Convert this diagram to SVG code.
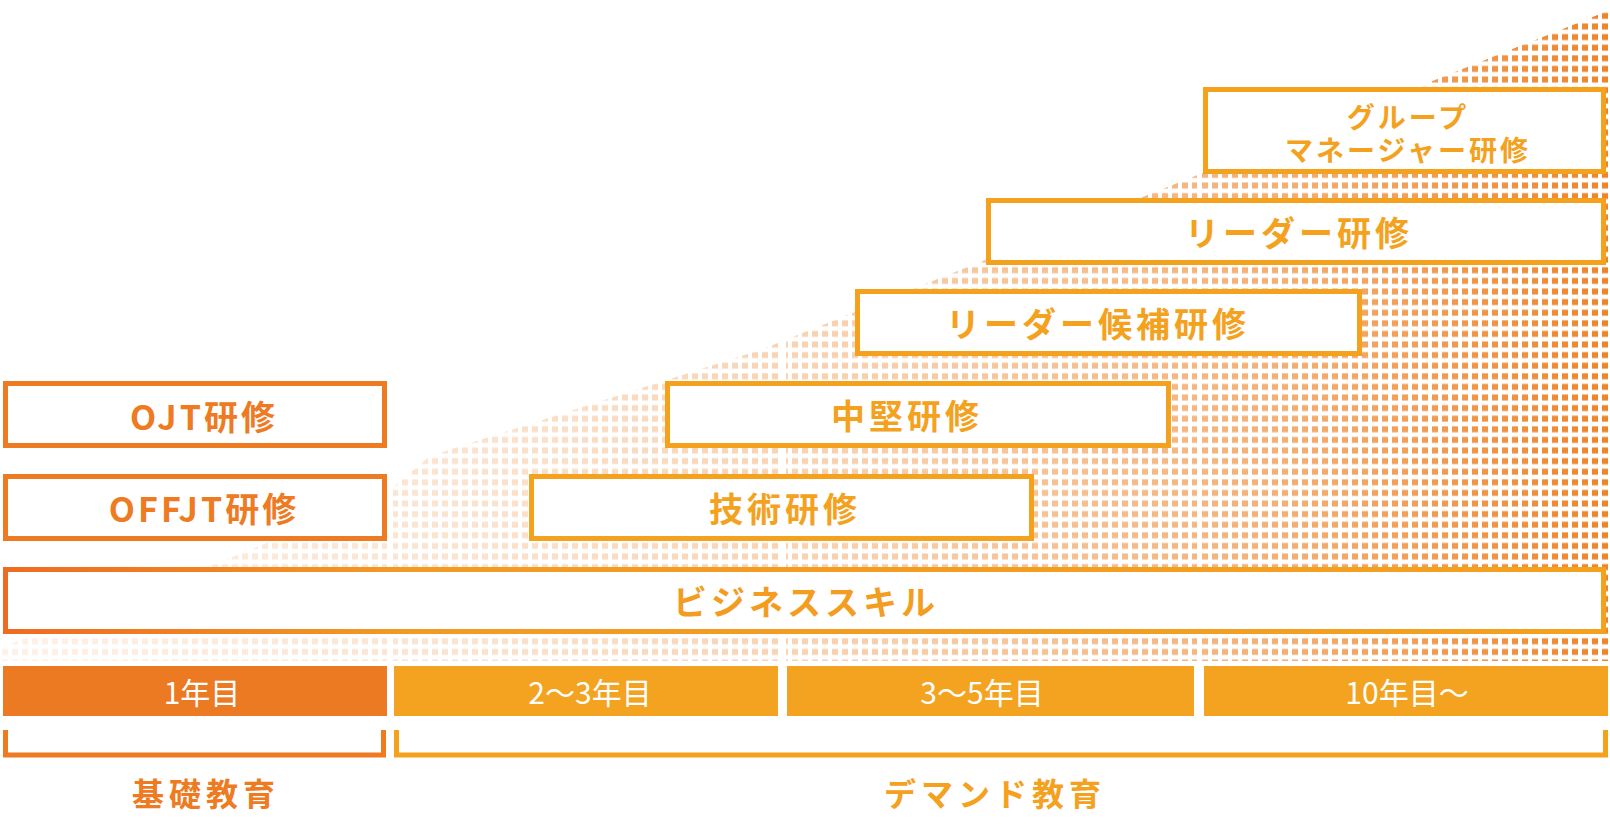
<svg xmlns="http://www.w3.org/2000/svg" width="1610" height="830" viewBox="0 0 1610 830">
  <defs>
    <pattern id="dots" x="0" y="0" width="10" height="10.6" patternUnits="userSpaceOnUse">
      <rect x="2" y="2.3" width="6" height="6" fill="#EE8429"/>
    </pattern>
    <linearGradient id="fade" x1="0" y1="0" x2="1610" y2="0" gradientUnits="userSpaceOnUse">
      <stop offset="0" stop-color="#1c1c1c"/>
      <stop offset="0.3" stop-color="#3c3c3c"/>
      <stop offset="0.55" stop-color="#666666"/>
      <stop offset="0.8" stop-color="#a8a8a8"/>
      <stop offset="1" stop-color="#ffffff"/>
    </linearGradient>
    <mask id="fadeMask" maskUnits="userSpaceOnUse" x="0" y="0" width="1610" height="830">
      <rect x="0" y="0" width="1610" height="830" fill="url(#fade)"/>
    </mask>
    <linearGradient id="bizGrad" x1="3" y1="0" x2="1607" y2="0" gradientUnits="userSpaceOnUse">
      <stop offset="0" stop-color="#EE6B22"/>
      <stop offset="0.25" stop-color="#F39A22"/>
      <stop offset="1" stop-color="#F4A11E"/>
    </linearGradient>
    <style>
      .boxA { fill: #ffffff; stroke: #EE7A22; stroke-width: 5; }
      .boxB { fill: #ffffff; stroke: #F4A11E; stroke-width: 5; }
      .lblA { font-family: "Noto Sans CJK JP", "Noto Sans", sans-serif; font-weight: bold; font-size: 34px; fill: #EE7A22; text-anchor: middle; letter-spacing: 3px; }
      .lblB { font-family: "Noto Sans CJK JP", "Noto Sans", sans-serif; font-weight: bold; font-size: 34px; fill: #F4A11E; text-anchor: middle; letter-spacing: 4px; }
      .lblS { font-family: "Noto Sans CJK JP", "Noto Sans", sans-serif; font-weight: bold; font-size: 28px; fill: #F4A11E; text-anchor: middle; letter-spacing: 3px; }
      .bar { font-family: "Noto Sans CJK JP", "Noto Sans", sans-serif; font-weight: normal; font-size: 30px; fill: #ffffff; text-anchor: middle; }
      .brA { fill: none; stroke: #EE7A22; stroke-width: 5; }
      .brB { fill: none; stroke: #F4A11E; stroke-width: 5; }
      .cat { font-family: "Noto Sans CJK JP", "Noto Sans", sans-serif; font-weight: bold; font-size: 32px; text-anchor: middle; letter-spacing: 5px; }
    </style>
  </defs>

  <!-- halftone background triangle -->
  <g id="background">
    <polygon points="0,648 250,550 390,490 430,456 760,350 1610,10 1610,661 0,661" fill="url(#dots)" mask="url(#fadeMask)"/>
    <rect x="387" y="0" width="6" height="662" fill="#ffffff"/>
    <rect x="780" y="0" width="6" height="662" fill="#ffffff"/>
    <rect x="1197" y="0" width="5" height="662" fill="#ffffff"/>
  </g>

  <g id="node-ojt">
    <rect class="boxA" x="5.5" y="383.5" width="379" height="62"/>
    <text class="lblA" x="204" y="430">OJT研修</text>
  </g>
  <g id="node-offjt">
    <rect class="boxA" x="5.5" y="476.5" width="379" height="62"/>
    <text class="lblA" x="204" y="522">OFFJT研修</text>
  </g>
  <g id="node-business">
    <rect x="5.5" y="569.5" width="1598" height="62" fill="#ffffff" stroke="url(#bizGrad)" stroke-width="5"/>
    <text class="lblB" x="806" y="615" style="fill:url(#bizGrad)">ビジネススキル</text>
  </g>
  <g id="node-gijutsu">
    <rect class="boxB" x="531.5" y="476.5" width="500" height="62"/>
    <text class="lblB" x="785" y="522">技術研修</text>
  </g>
  <g id="node-chuken">
    <rect class="boxB" x="667.5" y="383.5" width="501" height="62"/>
    <text class="lblB" x="907" y="429">中堅研修</text>
  </g>
  <g id="node-leader-candidate">
    <rect class="boxB" x="857.5" y="291.5" width="502" height="62"/>
    <text class="lblB" x="1098" y="337">リーダー候補研修</text>
  </g>
  <g id="node-leader">
    <rect class="boxB" x="988.5" y="200.5" width="615" height="62"/>
    <text class="lblB" x="1299" y="246">リーダー研修</text>
  </g>
  <g id="node-group-manager">
    <rect class="boxB" x="1205.5" y="89.5" width="398" height="82"/>
    <text class="lblS" x="1408" y="128">グループ</text>
    <text class="lblS" x="1408" y="161">マネージャー研修</text>
  </g>

  <g id="year-bars">
    <g id="bar-1">
      <rect x="3" y="666" width="384" height="50" fill="#EC7A22"/>
      <text class="bar" x="202" y="704">1年目</text>
    </g>
    <g id="bar-2">
      <rect x="394" y="666" width="384" height="50" fill="#F4A320"/>
      <text class="bar" x="590" y="704">2～3年目</text>
    </g>
    <g id="bar-3">
      <rect x="787" y="666" width="407" height="50" fill="#F4A320"/>
      <text class="bar" x="982" y="704">3～5年目</text>
    </g>
    <g id="bar-4">
      <rect x="1204" y="666" width="404" height="50" fill="#F4A320"/>
      <text class="bar" x="1407" y="704">10年目～</text>
    </g>
  </g>

  <g id="connectors">
    <polyline class="brA" points="5.5,730 5.5,755 383.5,755 383.5,730"/>
    <polyline class="brB" points="396.5,730 396.5,755 1605.5,755 1605.5,730"/>
  </g>

  <g id="node-kiso">
    <text class="cat" x="206" y="806" fill="#EE7A22">基礎教育</text>
  </g>
  <g id="node-demand">
    <text class="cat" x="995" y="806" fill="#F4A11E">デマンド教育</text>
  </g>
</svg>
